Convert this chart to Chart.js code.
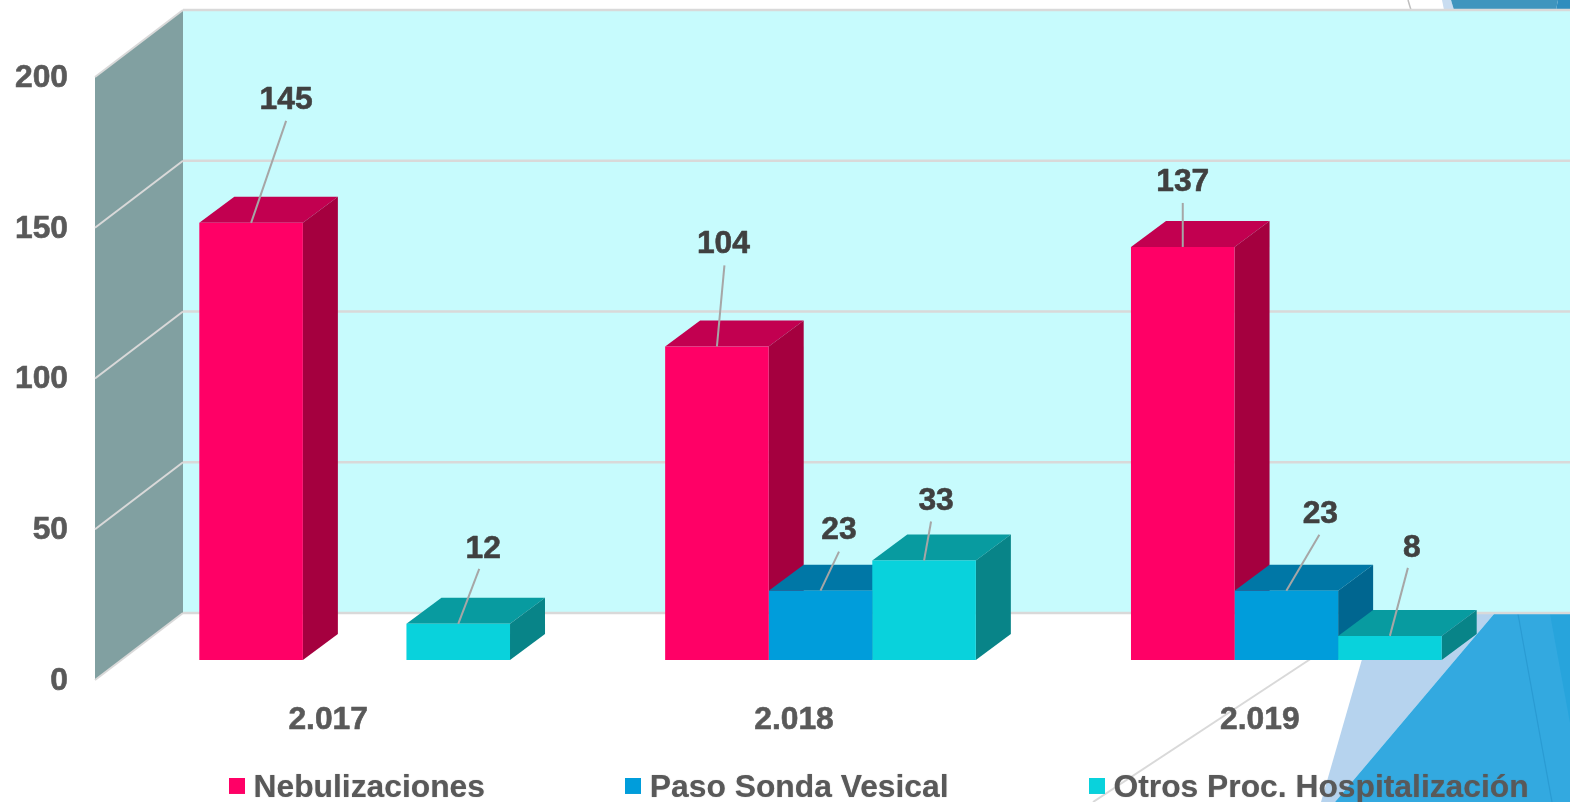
<!DOCTYPE html>
<html><head><meta charset="utf-8">
<style>html,body{margin:0;padding:0;background:#fff}#w{width:1570px;height:802px;position:relative;overflow:hidden}</style>
<script src="https://cdn.jsdelivr.net/npm/chart.js@4"></script>
</head><body><div id="w"><canvas id="c" width="1570" height="802"></canvas></div>
<script>
const categories = ['2.017', '2.018', '2.019'];
const nebulizaciones = [145, 104, 137];
const pasoSonda = [null, 23, 23];
const otrosProc = [12, 33, 8];
const seriesNames = ['Nebulizaciones', 'Paso Sonda Vesical', 'Otros Proc. Hospitalización'];
const yTicks = [0, 50, 100, 150, 200];

const frontColors = ['#FF0066', '#009DDB', '#09D2DC'];
const topColors = ['#C20050', '#0077A6', '#089BA0'];
const sideColors = ['#A5003F', '#006690', '#088488'];
// [label dx, label dy, leader end dx, leader end dy] relative to each bar's top centre
const nebOffsets = [[35,-124,35,-102],[6.5,-103,7.5,-81],[0,-66,0,-44]];
const sondaOffsets = [null,[18.5,-61,18.5,-39],[34,-77,33,-56]];
const otrosOffsets = [[25,-76,21,-55],[12,-60,7,-39],[22,-89,18,-68]];
const allOffsets = [nebOffsets, sondaOffsets, otrosOffsets];

const FONT = '"Liberation Sans", Arial, sans-serif';
const FONT_SIZE = 31.8;
const PLOT_TOP = 57, PLOT_BOTTOM = 660;
const DX = 35, DY = 26;          // bar depth
const WALL_FRONT = 20, WALL_BACK = 47;  // wall shift against the bar plane
const GRID = '#D9D9D9';

function poly(ctx, pts, fill) {
  ctx.beginPath();
  pts.forEach((p, i) => i ? ctx.lineTo(p[0], p[1]) : ctx.moveTo(p[0], p[1]));
  ctx.closePath();
  ctx.fillStyle = fill;
  ctx.fill();
}
function seg(ctx, a, b, color, w) {
  ctx.beginPath();
  ctx.moveTo(a[0], a[1]);
  ctx.lineTo(b[0], b[1]);
  ctx.strokeStyle = color;
  ctx.lineWidth = w;
  ctx.stroke();
}
function swatch(color) {
  const s = document.createElement('canvas');
  s.width = 16; s.height = 20;
  const g = s.getContext('2d');
  g.fillStyle = color;
  g.fillRect(0, 0, 16, 16);
  return s;
}

const scene = {
  id: 'scene',
  beforeLayout(chart) {
    const l = chart.legend;
    if (l && !l._wrapped) {
      const fit = l.fit.bind(l);
      l.fit = function () {
        this.maxWidth = 5000;
        fit();
        this.width = 1570;
        this.height = 0;
      };
      const draw = l.draw.bind(l);
      l.draw = function () {
        const ctx = this.ctx;
        ctx.save();
        ctx.shadowColor = 'rgba(89,89,89,0.55)';
        ctx.shadowBlur = 1;
        draw();
        ctx.restore();
      };
      l._wrapped = true;
    }
  },
  afterLayout(chart) {
    const l = chart.legend;
    l.left = 88.6; l.right = 5000; l.top = 625; l.bottom = 802;
    const y = chart.scales.y, a = chart.chartArea;
    y.top = PLOT_TOP; y.bottom = PLOT_BOTTOM; y.height = PLOT_BOTTOM - PLOT_TOP;
    y.configure();
    a.top = PLOT_TOP; a.bottom = PLOT_BOTTOM; a.height = PLOT_BOTTOM - PLOT_TOP;
  },
  beforeDraw(chart) {
    const ctx = chart.ctx, y = chart.scales.y;
    ctx.save();
    ctx.fillStyle = '#fff';
    ctx.fillRect(0, 0, 1570, 802);
    // decorative backdrop
    poly(ctx, [[1321,802],[1375,614],[1494,614],[1335,802]], '#B6D3EE');
    poly(ctx, [[1335,802],[1494,614],[1570,614],[1570,802]], '#33A9E0');
    poly(ctx, [[1550,614],[1570,614],[1570,723]], '#27A4DC');
    seg(ctx, [1518,614], [1552,802], '#2A9BD2', 1.2);
    seg(ctx, [1093,802], [1312,658], GRID, 2);
    poly(ctx, [[1442,0],[1444,10],[1454,10],[1451,0]], '#C9DDF1');
    poly(ctx, [[1451,0],[1454,10],[1556,10],[1558,0]], '#3F95BE');
    poly(ctx, [[1558,0],[1556,10],[1570,10],[1570,0]], '#2F8DBE');
    seg(ctx, [1408,0], [1411,10], '#BFBFBF', 1.5);
    // walls
    const fy = v => y.getPixelForValue(v) + WALL_FRONT;
    const by = v => y.getPixelForValue(v) - WALL_BACK;
    const xF = 95, xB = 183;
    poly(ctx, [[xB, by(200)],[1570, by(200)],[1570, by(0)],[xB, by(0)]], '#C7FBFD');
    poly(ctx, [[xF, fy(200)],[xB, by(200)],[xB, by(0)],[xF, fy(0)]], '#81A0A1');
    yTicks.forEach(v => {
      seg(ctx, [xF, fy(v)], [xB, by(v)], GRID, 2);
      seg(ctx, [xB, by(v)], [1570, by(v)], GRID, 2.4);
    });
    ctx.restore();
  },
  beforeDatasetsDraw(chart) {
    const ctx = chart.ctx;
    ctx.save();
    chart.data.datasets.forEach((ds, d) => {
      chart.getDatasetMeta(d).data.forEach((bar, i) => {
        if (ds.data[i] == null) return;
        const h = bar.width / 2, l = bar.x - h, r = bar.x + h, t = bar.y, b = bar.base;
        poly(ctx, [[l,t],[l+DX,t-DY],[r+DX,t-DY],[r,t]], topColors[d]);
        poly(ctx, [[r,t],[r+DX,t-DY],[r+DX,b-DY],[r,b]], sideColors[d]);
      });
    });
    ctx.restore();
  },
  afterDatasetsDraw(chart) {
    const ctx = chart.ctx;
    ctx.save();
    ctx.font = 'bold ' + FONT_SIZE + 'px ' + FONT;
    ctx.textAlign = 'center';
    ctx.textBaseline = 'middle';
    ctx.lineJoin = 'round';
    chart.data.datasets.forEach((ds, d) => {
      chart.getDatasetMeta(d).data.forEach((bar, i) => {
        if (ds.data[i] == null) return;
        const o = allOffsets[d][i];
        seg(ctx, [bar.x, bar.y], [bar.x + o[2], bar.y + o[3]], '#A6A6A6', 2);
        ctx.fillStyle = '#404040';
        ctx.strokeStyle = '#404040';
        ctx.lineWidth = 0.6;
        ctx.strokeText(String(ds.data[i]), bar.x + o[0], bar.y + o[1] + 1);
        ctx.fillText(String(ds.data[i]), bar.x + o[0], bar.y + o[1] + 1);
      });
    });
    ctx.restore();
  }
};

new Chart(document.getElementById('c'), {
  type: 'bar',
  data: {
    labels: categories,
    datasets: [nebulizaciones, pasoSonda, otrosProc].map((vals, i) => ({
      label: seriesNames[i],
      data: vals,
      backgroundColor: frontColors[i],
      borderWidth: 0,
      pointStyle: swatch(frontColors[i]),
      categoryPercentage: 0.667,
      barPercentage: 1
    }))
  },
  options: {
    responsive: false,
    animation: false,
    layout: { autoPadding: false, padding: { top: 40, right: 50.75, left: 0, bottom: 0 } },
    scales: {
      x: {
        grid: { display: false, drawTicks: false },
        border: { display: false },
        afterFit(s) { s.height = 142; },
        ticks: { color: '#595959', textStrokeColor: '#595959', textStrokeWidth: 0.6, font: { family: FONT, size: FONT_SIZE, weight: 'bold' }, labelOffset: -26.5, padding: 41, maxRotation: 0 }
      },
      y: {
        min: 0, max: 200,
        grid: { display: false, drawTicks: false },
        border: { display: false },
        afterFit(s) { s.width = 121.75; },
        afterBuildTicks(s) { s.ticks = yTicks.map(v => ({ value: v })); },
        ticks: { color: '#595959', textStrokeColor: '#595959', textStrokeWidth: 0.6, font: { family: FONT, size: FONT_SIZE, weight: 'bold' }, labelOffset: 21, padding: 53.75 }
      }
    },
    plugins: {
      tooltip: { enabled: false },
      legend: {
        display: true,
        position: 'bottom',
        align: 'start',
        labels: {
          usePointStyle: true,
          pointStyleWidth: 2,
          padding: 147,
          color: '#595959',
          font: { family: FONT, size: FONT_SIZE, weight: 'bold' }
        }
      }
    }
  },
  plugins: [scene]
});
</script></body></html>
